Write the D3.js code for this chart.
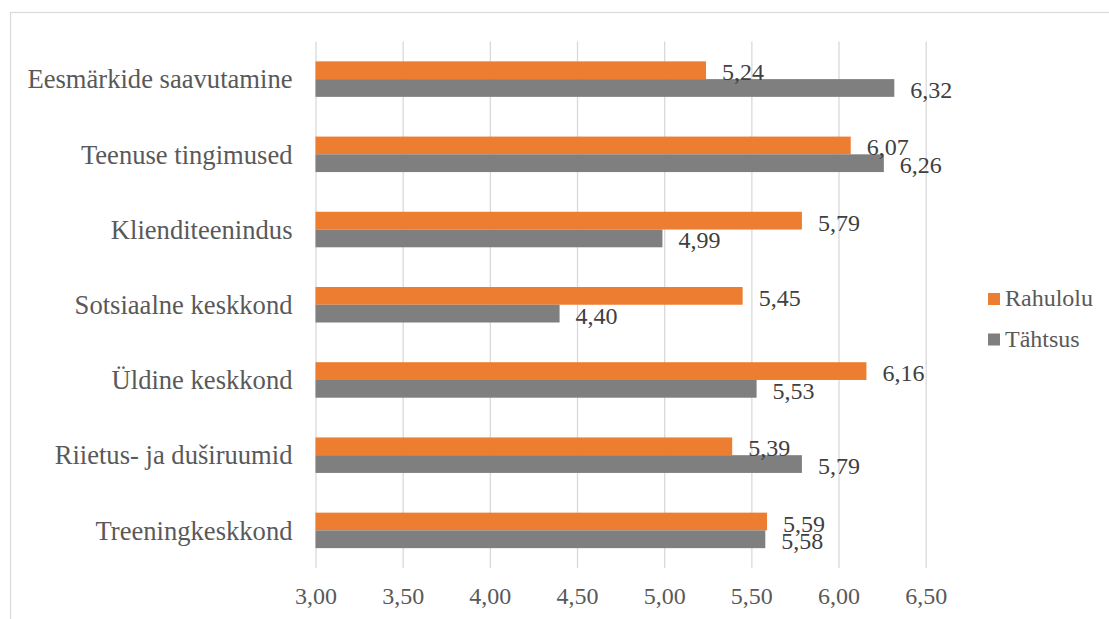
<!DOCTYPE html>
<html>
<head>
<meta charset="utf-8">
<script src="https://cdn.jsdelivr.net/npm/d3@7"></script>
<style>
  html, body { margin: 0; padding: 0; background: #fff; }
  svg { display: block; }
</style>
</head>
<body>
<svg id="chart" width="1109" height="619"></svg>
<script>
const categories = [
  "Eesmärkide saavutamine",
  "Teenuse tingimused",
  "Klienditeenindus",
  "Sotsiaalne keskkond",
  "Üldine keskkond",
  "Riietus- ja duširuumid",
  "Treeningkeskkond"
];
const seriesNames = ["Rahulolu", "Tähtsus"];
const rahulolu = [5.24, 6.07, 5.79, 5.45, 6.16, 5.39, 5.59];
const tahtsus  = [6.32, 6.26, 4.99, 4.40, 5.53, 5.79, 5.58];
const xTicks = [3.0, 3.5, 4.0, 4.5, 5.0, 5.5, 6.0, 6.5];
const colors = ["#ED7D31", "#7F7F7F"];

const FONT = "Liberation Serif";

const seriesValues = [rahulolu, tahtsus];
const rows = categories.map((c, i) => ({
  cat: c,
  vals: seriesNames.map((s, j) => ({ s, v: seriesValues[j][i], color: colors[j] }))
}));

const loc = d3.formatLocale({ decimal: ",", thousands: " ", grouping: [3], currency: ["", "€"] });
const fmt = loc.format(".2f");

const svg = d3.select("#chart");

// outer chart border
svg.append("rect")
  .attr("x", 10.5).attr("y", 12.5)
  .attr("width", 1300).attr("height", 800)
  .attr("fill", "none").attr("stroke", "#D9D9D9").attr("stroke-width", 1.2);

const plotTop = 41.5, plotBottom = 568, plotLeft = 315.5, plotRight = 925.7;

const x = d3.scaleLinear().domain([3, 6.5]).range([plotLeft, plotRight]);
const y = d3.scaleBand().domain(categories).range([plotTop, plotBottom])
  .paddingInner(0.528).paddingOuter(0.264);
const ySub = d3.scaleBand().domain(seriesNames).range([0, y.bandwidth()]);

// gridlines + tick labels
const xAxis = svg.append("g")
  .attr("transform", `translate(0,${plotBottom})`)
  .call(d3.axisBottom(x).tickValues(xTicks).tickFormat(fmt)
    .tickSize(-(plotBottom - plotTop)).tickSizeOuter(0));
xAxis.attr("font-family", FONT).attr("font-size", 24);
xAxis.select(".domain").remove();
xAxis.selectAll(".tick line").attr("stroke", "#D9D9D9").attr("stroke-width", 1.3);
xAxis.selectAll(".tick text")
  .attr("y", 36).attr("dy", 0)
  .attr("fill", "#595959");

// category labels
const yAxis = svg.append("g")
  .attr("transform", `translate(${plotLeft},0)`)
  .call(d3.axisLeft(y).tickSize(0).tickPadding(23));
yAxis.attr("font-family", FONT).attr("font-size", 26.6);
yAxis.select(".domain").remove();
yAxis.selectAll(".tick text")
  .attr("dy", "0.35em")
  .attr("fill", "#595959");

// bars
const groups = svg.append("g").selectAll("g").data(rows).join("g")
  .attr("transform", d => `translate(0,${y(d.cat)})`);

groups.selectAll("rect").data(d => d.vals).join("rect")
  .attr("x", x(3))
  .attr("y", d => ySub(d.s))
  .attr("width", d => x(d.v) - x(3))
  .attr("height", ySub.bandwidth())
  .attr("fill", d => d.color);

groups.selectAll("text").data(d => d.vals).join("text")
  .attr("x", d => x(d.v) + 16)
  .attr("y", d => ySub(d.s) + ySub.bandwidth() / 2 + 10)
  .attr("fill", "#404040")
  .attr("font-family", FONT)
  .attr("font-size", 24)
  .text(d => fmt(d.v));

// legend
const legend = svg.append("g").selectAll("g").data(seriesNames).join("g")
  .attr("transform", (d, i) => `translate(988,${306 + i * 40.5})`);
legend.append("rect")
  .attr("x", 0).attr("y", -13).attr("width", 12).attr("height", 12)
  .attr("fill", (d, i) => colors[i]);
legend.append("text")
  .attr("x", 17).attr("y", 0)
  .attr("fill", "#595959")
  .attr("font-family", FONT)
  .attr("font-size", 24)
  .text(d => d);
</script>
</body>
</html>
